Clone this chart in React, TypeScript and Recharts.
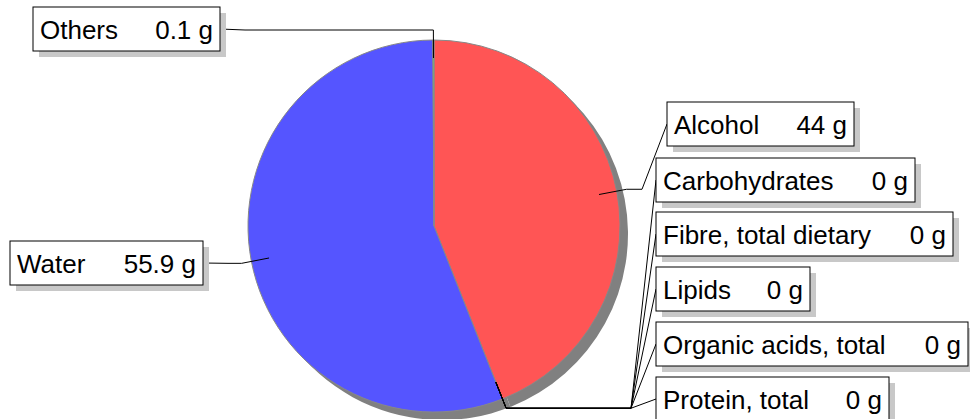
import { PieChart, Pie, Cell } from 'recharts';

const categories = [
  'Alcohol',
  'Carbohydrates',
  'Fibre, total dietary',
  'Lipids',
  'Organic acids, total',
  'Protein, total',
  'Water',
  'Others',
];
const grams = [44, 0, 0, 0, 0, 0, 55.9, 0.1];
const valueLabels = ['44 g', '0 g', '0 g', '0 g', '0 g', '0 g', '55.9 g', '0.1 g'];
const sliceColors = ['#ff5555', '#ff5555', '#ff5555', '#ff5555', '#ff5555', '#ff5555', '#5555ff', '#55ff55'];

// label boxes: left, top, width (height is fixed)
const boxes = [
  { x: 667, y: 102, w: 187 },
  { x: 656, y: 158, w: 259 },
  { x: 656, y: 212, w: 297 },
  { x: 656, y: 267, w: 154 },
  { x: 656, y: 322, w: 312 },
  { x: 656, y: 377, w: 233 },
  { x: 10, y: 241, w: 193 },
  { x: 33, y: 7, w: 187 },
];
const BOX_H = 44;
const RAD = Math.PI / 180;

const data = categories.map((name, i) => ({ name, value: grams[i] }));

function renderLabel(props: any) {
  const { cx, cy, midAngle, outerRadius, index } = props;
  const b = boxes[index];
  const cos = Math.cos(-midAngle * RAD);
  const sin = Math.sin(-midAngle * RAD);
  const p1 = { x: cx + (outerRadius - 18) * cos, y: cy + (outerRadius - 18) * sin };
  const p2 = { x: cx + (outerRadius + 10) * cos, y: cy + (outerRadius + 10) * sin };
  const right = b.x > cx;
  const ax = right ? b.x : b.x + b.w;
  const ay = b.y + BOX_H / 2;
  const linkX = right ? ax - 25 : ax + 25;
  const pts = `${p1.x},${p1.y} ${p2.x},${p2.y} ${linkX},${p2.y} ${ax},${ay}`;
  return (
    <g key={`lbl-${index}`}>
      <polyline points={pts} fill="none" stroke="#000" strokeWidth={1} />
      <rect x={b.x + 6} y={b.y + 6} width={b.w} height={BOX_H} fill="#c8c8c8" />
      <rect x={b.x} y={b.y} width={b.w} height={BOX_H} fill="#fff" stroke="#000" strokeWidth={1} />
      <text x={b.x + 7} y={ay + 10} fontSize={26} fontFamily="'Liberation Sans', Arial, sans-serif" fill="#000">
        {categories[index]}
      </text>
      <text x={b.x + b.w - 7} y={ay + 10} fontSize={26} textAnchor="end" fontFamily="'Liberation Sans', Arial, sans-serif" fill="#000">
        {valueLabels[index]}
      </text>
    </g>
  );
}

export default function App() {
  return (
    <div style={{ width: 970, height: 419, background: '#fff' }}>
      <style>{`body{margin:0}`}</style>
      <PieChart width={970} height={419} margin={{ top: 0, right: 0, bottom: 0, left: 0 }}>
        <Pie
          data={data}
          dataKey="value"
          cx={442}
          cy={234}
          outerRadius={186}
          startAngle={90}
          endAngle={-270}
          fill="#808080"
          stroke="none"
          isAnimationActive={false}
        />
        <Pie
          data={data}
          dataKey="value"
          cx={434}
          cy={226}
          outerRadius={186}
          startAngle={90}
          endAngle={-270}
          stroke="#888"
          strokeWidth={1}
          label={renderLabel}
          labelLine={false}
          isAnimationActive={false}
        >
          {data.map((_, i) => (
            <Cell key={i} fill={sliceColors[i]} />
          ))}
        </Pie>
      </PieChart>
    </div>
  );
}
